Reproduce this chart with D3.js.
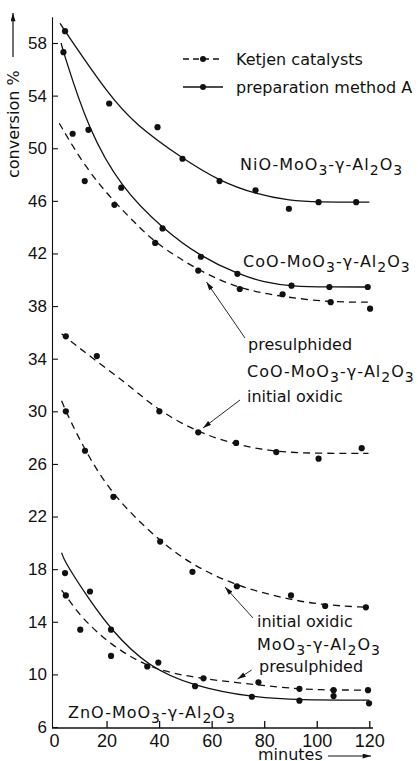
<!DOCTYPE html>
<html lang="en">
	<head>
		<meta charset="utf-8">
		<title>Conversion vs minutes</title>
		<script type="text/javascript" src="https://d3js.org/d3.v7.min.js"></script>
		<style type="text/css">
			body { margin: 0; background: #fff; }
			.lab { font-family: "DejaVu Sans", sans-serif; font-size: 16px; fill: #111; }
			.chem { letter-spacing: 1px; }
		</style>
	</head>
	<body>
		<script type="text/javascript">
			//Tick values
			var minuteTicks = [0, 20, 40, 60, 80, 100, 120];
			var conversionTicks = [6, 10, 14, 18, 22, 26, 30, 34, 38, 42, 46, 50, 54, 58];

			//Measured points [minutes, conversion %]
			var nioPoints = [[4.2,58.9],[21,53.4],[39.4,51.6],[48.9,49.2],[63,47.5],[76.7,46.8],[89.4,45.4],[100.7,45.9],[115,45.9]];
			var coAPoints = [[3.6,57.3],[13.1,51.4],[25.6,47.0],[41.3,43.9],[55.9,41.75],[69.8,40.45],[90.4,39.55],[104.8,39.45],[119.4,39.45]];
			var coPresPoints = [[7.1,51.1],[11.7,47.5],[23,45.7],[38.5,42.8],[54.9,40.7],[70.7,39.3],[87,38.9],[105.3,38.3],[120.3,37.8]];
			var coOxPoints = [[4.5,35.7],[16.3,34.2],[40.1,30.0],[54.9,28.4],[69.3,27.6],[84.6,26.9],[100.7,26.4],[117.1,27.2]];
			var moOxPoints = [[4.5,30.0],[11.8,27.0],[22.6,23.5],[40.4,20.1],[52.7,17.8],[69.6,16.7],[90.2,16.0],[103.2,15.2],[118.7,15.1]];
			var znPoints = [[4.2,17.7],[13.7,16.3],[21.7,13.4],[35.5,10.6],[53.7,9.1],[75.3,8.3],[93.4,8.0],[106.4,8.35],[119.9,7.8]];
			var moPresPoints = [[4.5,16.0],[10,13.4],[21.7,11.4],[39.7,10.9],[56.9,9.7],[77.8,9.4],[93.4,8.9],[106.4,8.8],[119.5,8.8]];

			//Hand drawn fit curves
			var nioCurve = [[2.3,59.5],[4.2,58.9],[21,54],[31,51.8],[49,49.2],[63,47.5],[77,46.5],[90,46.0],[100,45.9],[120,45.9]];
			var coACurve = [[2.7,58.0],[3.6,57.3],[13.1,51.4],[25.6,47.0],[41.3,43.9],[55.9,41.75],[69.8,40.45],[80,39.8],[90.4,39.5],[105,39.45],[119.4,39.45]];
			var coPresCurve = [[2,51.9],[12,48.5],[23,45.9],[31,44.3],[38.5,42.8],[54.9,40.7],[70.7,39.3],[87,38.7],[105,38.3],[120,38.3]];
			var coOxCurve = [[2.9,35.9],[4.5,35.6],[16.3,33.8],[29,31.9],[40.1,30.0],[54.9,28.4],[69.3,27.45],[84.6,26.9],[100.7,26.8],[119.7,26.8]];
			var moOxCurve = [[2.9,30.8],[4.5,30.0],[11.8,27.0],[22.6,23.5],[40.4,20.1],[52.7,18.3],[69.6,16.7],[90.2,15.65],[103.2,15.27],[118.7,15.1]];
			var znCurve = [[2.9,19.25],[4.2,18.5],[13.7,15.6],[21.7,13.4],[35.5,10.6],[53.7,9.06],[75.3,8.26],[93.4,8.05],[120,8.05]];
			var moPresCurve = [[2.9,16.4],[4.5,16.0],[10,14.4],[21.7,12.2],[35.5,10.6],[45,10.1],[56.6,9.65],[78,9.2],[93.4,8.87],[106,8.81],[120,8.81]];

			//Width and height
			var w = 418;
			var h = 761;

			var xScale = d3.scaleLinear().domain([0, 120]).range([54, 369.3]);
			var yScale = d3.scaleLinear().domain([6, 60]).range([727, 16.7]);

			var svg = d3.select("body")
						.append("svg")
						.attr("width", w)
						.attr("height", h);

			var ink = "#111";

			//arrow head
			svg.append("defs").append("marker")
				.attr("id", "arr")
				.attr("viewBox", "0 0 10 6")
				.attr("refX", 10)
				.attr("refY", 3)
				.attr("markerWidth", 9)
				.attr("markerHeight", 5)
				.attr("markerUnits", "userSpaceOnUse")
				.attr("orient", "auto")
				.append("path")
				.attr("d", "M0,0L10,3L0,6Z")
				.attr("fill", ink);

			// X axis
			var xAxis = d3.axisBottom(xScale)
						.tickValues(minuteTicks)
						.tickSizeInner(-7)
						.tickSizeOuter(0)
						.tickPadding(6);

			var gx = svg.append("g")
				.attr("transform", "translate(0,728)")
				.call(xAxis);
			gx.select(".domain").remove();
			gx.selectAll(".tick line").attr("stroke", ink).attr("stroke-width", 1.3)
				.filter(function(d) { return d === 0; }).remove();
			gx.selectAll(".tick text")
				.attr("font-family", "Liberation Sans, Arial, sans-serif")
				.attr("font-size", 18)
				.attr("fill", ink);
			svg.append("line")
				.attr("x1", 52).attr("x2", 373)
				.attr("y1", 728).attr("y2", 728)
				.attr("stroke", ink).attr("stroke-width", 1.6);

			//Y axis
			var yAxis = d3.axisLeft(yScale)
						.tickValues(conversionTicks)
						.tickSizeInner(-6)
						.tickSizeOuter(0)
						.tickPadding(5);

			var gy = svg.append("g")
				.attr("transform", "translate(52,0)")
				.call(yAxis);
			gy.select(".domain").attr("stroke", ink).attr("stroke-width", 1.1);
			gy.selectAll(".tick line").attr("stroke", ink).attr("stroke-width", 1.1);
			gy.selectAll(".tick text")
				.attr("font-family", "Liberation Sans, Arial, sans-serif")
				.attr("font-size", 17)
				.attr("fill", ink);

			// axis titles
			svg.append("text")
				.attr("class", "lab")
				.attr("transform", "translate(18.5,178) rotate(-90)")
				.text("conversion %");
			svg.append("line")
				.attr("x1", 13).attr("y1", 57)
				.attr("x2", 13).attr("y2", 13)
				.attr("stroke", ink).attr("stroke-width", 1.2)
				.attr("marker-end", "url(#arr)");

			svg.append("text")
				.attr("class", "lab")
				.attr("x", 258).attr("y", 760)
				.attr("font-size", 15)
				.text("minutes");
			svg.append("line")
				.attr("x1", 328).attr("y1", 756)
				.attr("x2", 371).attr("y2", 756)
				.attr("stroke", ink).attr("stroke-width", 1.2)
				.attr("marker-end", "url(#arr)");

			//Curves and points
			var series = [
				{pts: nioPoints, fit: nioCurve, dash: null},
				{pts: coAPoints, fit: coACurve, dash: null},
				{pts: coPresPoints, fit: coPresCurve, dash: "7,5"},
				{pts: coOxPoints, fit: coOxCurve, dash: "7,5"},
				{pts: moOxPoints, fit: moOxCurve, dash: "7,5"},
				{pts: znPoints, fit: znCurve, dash: null},
				{pts: moPresPoints, fit: moPresCurve, dash: "7,5"}
			];

			var line = d3.line()
				.x(function(d) { return xScale(d[0]); })
				.y(function(d) { return yScale(d[1]); })
				.curve(d3.curveBasis);

			series.forEach(function(s) {
				svg.append("path")
					.attr("d", line(s.fit))
					.attr("fill", "none")
					.attr("stroke", ink)
					.attr("stroke-width", 1.3)
					.attr("stroke-dasharray", s.dash);

				svg.selectAll(null)
					.data(s.pts)
					.enter()
					.append("circle")
					.attr("cx", function(d) { return xScale(d[0]); })
					.attr("cy", function(d) { return yScale(d[1]); })
					.attr("r", 3.1)
					.attr("fill", ink);
			});

			//Legend
			var legend = [["Ketjen catalysts", "6,4", 59], ["preparation method A", null, 87]];
			legend.forEach(function(l) {
				svg.append("line")
					.attr("x1", 183).attr("x2", 223)
					.attr("y1", l[2]).attr("y2", l[2])
					.attr("stroke", ink).attr("stroke-width", 1.3)
					.attr("stroke-dasharray", l[1]);
				svg.append("circle")
					.attr("cx", 203).attr("cy", l[2]).attr("r", 3).attr("fill", ink);
				svg.append("text")
					.attr("class", "lab")
					.attr("x", 236).attr("y", l[2] + 6)
					.text(l[0]);
			});

			//Labels, "_" marks a subscript
			function chem(x, y, parts) {
				var t = svg.append("text")
					.attr("class", "lab chem")
					.attr("x", x).attr("y", y);
				var down = false;
				parts.forEach(function(p) {
					var sub = p.charAt(0) === "_";
					var span = t.append("tspan").text(sub ? p.slice(1) : p);
					if (sub && !down) { span.attr("dy", 5).attr("font-size", 14); down = true; }
					else if (sub) { span.attr("font-size", 14); }
					else if (down) { span.attr("dy", -5); down = false; }
				});
			}

			function plain(x, y, s) {
				svg.append("text").attr("class", "lab").attr("x", x).attr("y", y).text(s);
			}

			function arrow(x1, y1, x2, y2) {
				svg.append("line")
					.attr("x1", x1).attr("y1", y1)
					.attr("x2", x2).attr("y2", y2)
					.attr("stroke", ink).attr("stroke-width", 0.9)
					.attr("marker-end", "url(#arr)");
			}

			chem(240, 170, ["NiO-MoO", "_3", "-γ-Al", "_2", "O", "_3"]);
			chem(243, 267, ["CoO-MoO", "_3", "-γ-Al", "_2", "O", "_3"]);
			plain(248, 350, "presulphided");
			chem(247, 377, ["CoO-MoO", "_3", "-γ-Al", "_2", "O", "_3"]);
			plain(247, 402, "initial oxidic");
			plain(257, 627, "initial oxidic");
			chem(257, 650, ["MoO", "_3", "-γ-Al", "_2", "O", "_3"]);
			plain(259, 672, "presulphided");
			chem(68, 718, ["ZnO-MoO", "_3", "-γ-Al", "_2", "O", "_3"]);

			arrow(245, 338, 206.5, 282);
			arrow(240, 400, 203, 428);
			arrow(253, 618, 225, 587);
			arrow(251.7, 670, 237.5, 679);
		</script>
	</body>
</html>
